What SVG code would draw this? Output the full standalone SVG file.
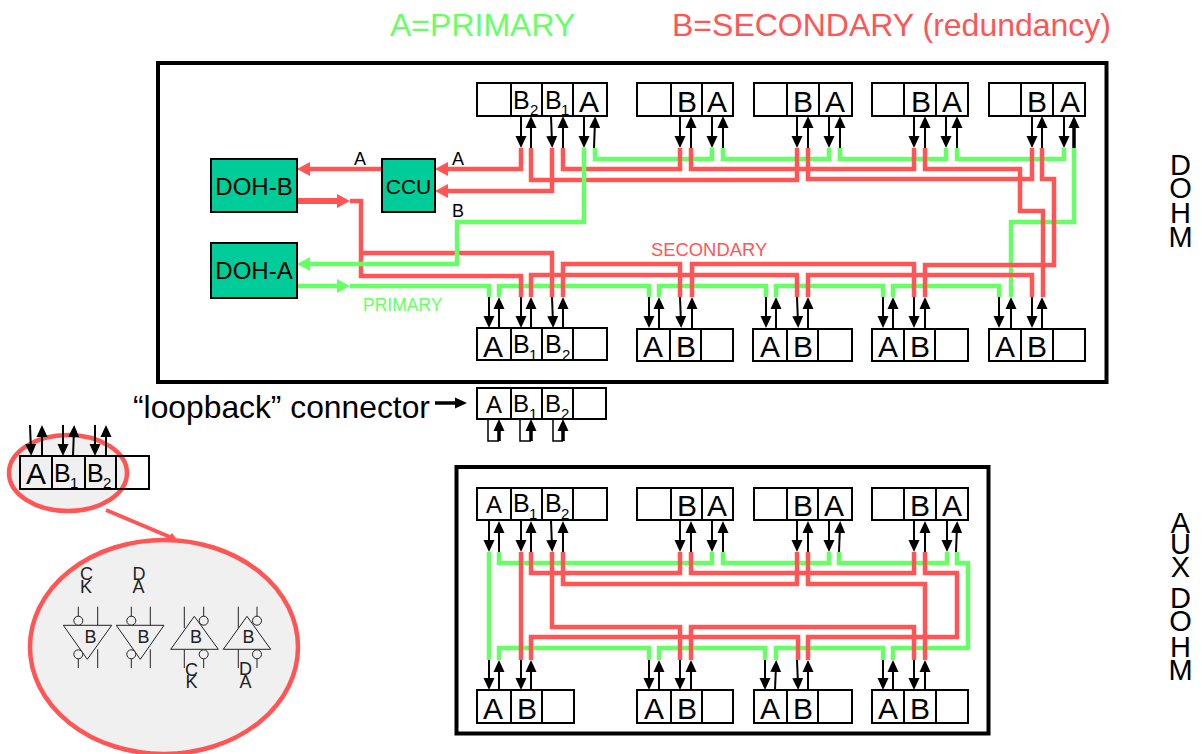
<svg xmlns="http://www.w3.org/2000/svg" width="1202" height="754" viewBox="0 0 1202 754">
<style>
text{font-family:"Liberation Sans",Arial,sans-serif;fill:#000}
.frame{fill:none;stroke:#000;stroke-width:4}
.box{fill:none;stroke:#000;stroke-width:2}
.doh{fill:#00cc99;stroke:#000;stroke-width:2}
.r,.g,.ra,.ga{fill:none;stroke-width:4.500;stroke-linejoin:miter}
.r,.ra{stroke:#ff5555}
.g,.ga{stroke:#66ff66}
.ra{marker-end:url(#hr)}
.ga{marker-end:url(#hg)}
.a{fill:none;stroke:#000;stroke-width:2;marker-end:url(#hk)}
.b{fill:none;stroke:#000;stroke-width:3.500;marker-end:url(#hk)}
.n{fill:none;stroke:#000;stroke-width:1.500}
.l{font-size:30px;text-anchor:middle}
.s{font-size:25px}
.u{font-size:15px}
.m{font-size:24px;text-anchor:middle}
.t{font-size:18px;text-anchor:middle;fill:#222}
.v{font-size:29px;text-anchor:middle}
.w{fill:none;stroke:#222;stroke-width:1}
.c{fill:#f0f0f0;stroke:#222;stroke-width:1}
.e{fill:#f0f0f0;stroke:#ff5555;stroke-width:4.500}
</style>
<defs>
<marker id="hk" markerUnits="userSpaceOnUse" markerWidth="12" markerHeight="12" viewBox="0 0 12 12" refX="7" refY="6" orient="auto"><path d="M0 .5L12 6L0 11.500z" fill="#000"/></marker>
<marker id="hr" markerUnits="userSpaceOnUse" markerWidth="13" markerHeight="14" viewBox="0 0 13 14" refX="8" refY="7" orient="auto"><path d="M0 0L13 7L0 14z" fill="#ff5555"/></marker>
<marker id="hg" markerUnits="userSpaceOnUse" markerWidth="13" markerHeight="14" viewBox="0 0 13 14" refX="8" refY="7" orient="auto"><path d="M0 0L13 7L0 14z" fill="#66ff66"/></marker>
</defs>

<text id="title-a" x="390" y="36" style="font-size:32px;fill:#66ff66">A=PRIMARY</text>
<text id="title-b" x="672" y="36" style="font-size:32px;fill:#ff5555">B=SECONDARY (redundancy)</text>

<rect id="dohm-frame" class="frame" x="158" y="63" width="948.500" height="319"/>
<rect id="aux-frame" class="frame" x="456.500" y="467" width="532" height="266.500"/>

<g id="inset-bubble"><ellipse class="e" cx="68" cy="473" rx="59" ry="38"/></g>

<g id="connectors">
<g id="dohm-wires">
<path class="g" d="M595 148V159H712V148"/>
<path class="g" d="M723 148V159H829V148"/>
<path class="g" d="M840 148V159H946V148"/>
<path class="g" d="M957 148V159H1064V148"/>
<path class="g" d="M1074 148V222H1011V297"/>
<path class="ga" d="M297 286H345"/>
<path class="g" d="M350 286H489V297"/>
<path class="g" d="M499 297V286H649V297"/>
<path class="g" d="M659 297V286H766V297"/>
<path class="g" d="M776 297V286H883V297"/>
<path class="g" d="M893 297V286H999V297"/>
<path class="ra" d="M521 148V169H440"/>
<path class="ra" d="M552 148V191H440"/>
<path class="ra" d="M382 169H302"/>
<path class="r" d="M297 201H340" style="stroke-width:6"/>
<path class="ra" d="M330 201H345"/>
<path class="r" d="M350 201H361V276H521V297"/>
<path class="r" d="M361 253H552V297"/>
<path class="r" d="M531 148V180H797V148"/>
<path class="r" d="M563 148V169H680V148"/>
<path class="r" d="M691 148V169H914V148"/>
<path class="r" d="M808 148V179H1032V148"/>
<path class="r" d="M925 148V169H1020V211H1043V297"/>
<path class="r" d="M1042 148V179H1054V265H925V297"/>
<path class="r" d="M531 297V275H797V297"/>
<path class="r" d="M563 297V264H680V297"/>
<path class="r" d="M692 297V264H914V297"/>
<path class="r" d="M808 297V275H1032V297"/>
<path class="ga" d="M584 148V222H457V264H302"/>
</g>
<g id="aux-wires">
<path class="g" d="M489 552V660"/>
<path class="g" d="M499 552V563H712V552"/>
<path class="g" d="M723 552V563H829V552"/>
<path class="g" d="M839 552V563H947V552"/>
<path class="g" d="M957 552V563H968V648H893V660"/>
<path class="g" d="M499 660V648H649V660"/>
<path class="g" d="M659 660V648H765V660"/>
<path class="g" d="M776 660V648H883V660"/>
<path class="r" d="M521 552V660"/>
<path class="r" d="M531 552V573H680V552"/>
<path class="r" d="M552 552V627H680V660"/>
<path class="r" d="M563 552V584H797V552"/>
<path class="r" d="M531 660V637H798V660"/>
<path class="r" d="M691 552V573H914V552"/>
<path class="r" d="M808 552V584H925V660"/>
<path class="r" d="M925 552V573H957V637H808V660"/>
<path class="r" d="M691 660V627H914V660"/>
</g>
<g id="dohm-arrows">
<path class="a" d="M521 116V143"/><path class="a" d="M531 148V121"/><path class="a" d="M551 116L552 143"/><path class="a" d="M563 148V121"/><path class="a" d="M584 116V143"/><path class="a" d="M594 148L595 121"/>
<path class="a" d="M680 116V143"/><path class="a" d="M691 148V121"/><path class="a" d="M712 116V143"/><path class="a" d="M723 148V121"/>
<path class="a" d="M797 116V143"/><path class="a" d="M808 148V121"/><path class="a" d="M829 116V143"/><path class="a" d="M840 148V121"/>
<path class="a" d="M914 116V143"/><path class="a" d="M925 148V121"/><path class="a" d="M946 116V143"/><path class="a" d="M957 148V121"/>
<path class="a" d="M1032 116V143"/><path class="a" d="M1042 148V121"/><path class="a" d="M1064 116V143"/><path class="b" d="M1074 148V121"/>
<path class="a" d="M489 297V323"/><path class="a" d="M499 328V302"/><path class="a" d="M521 297V323"/><path class="a" d="M531 328V302"/><path class="a" d="M552 297L553 323"/><path class="a" d="M563 328V302"/>
<path class="a" d="M649 297V323"/><path class="a" d="M659 328V302"/><path class="a" d="M680 297L681 323"/><path class="a" d="M692 328V302"/>
<path class="a" d="M766 297V323"/><path class="a" d="M776 328V302"/><path class="a" d="M797 297L798 323"/><path class="a" d="M808 328V302"/>
<path class="a" d="M883 297V323"/><path class="a" d="M893 328V302"/><path class="a" d="M914 297V323"/><path class="a" d="M925 328V302"/>
<path class="a" d="M999 297V323"/><path class="a" d="M1011 328V302"/><path class="a" d="M1032 297V323"/><path class="a" d="M1042 328V302"/>
</g>
<g id="loopback-arrows">
<path class="b" d="M435 403H462"/>
<path class="n" d="M488 419V441H499"/><path class="b" d="M499 441V424"/>
<path class="n" d="M520 419V441H531"/><path class="b" d="M531 441V424"/>
<path class="n" d="M553 419V441H563"/><path class="b" d="M563 441V424"/>
</g>
<g id="aux-arrows">
<path class="a" d="M489 520V547"/><path class="a" d="M499 552V526"/><path class="a" d="M521 520V547"/><path class="a" d="M531 552V526"/><path class="a" d="M551 520L552 547"/><path class="a" d="M563 552V526"/>
<path class="a" d="M680 520V547"/><path class="a" d="M691 552V526"/><path class="a" d="M712 520V547"/><path class="a" d="M723 552V526"/>
<path class="a" d="M797 520V547"/><path class="a" d="M808 552V526"/><path class="a" d="M829 520V547"/><path class="a" d="M839 552L840 526"/>
<path class="a" d="M914 520V547"/><path class="a" d="M925 552V526"/><path class="a" d="M947 520V547"/><path class="a" d="M956 552L957 526"/>
<path class="a" d="M489 660V685"/><path class="a" d="M499 690V665"/><path class="a" d="M521 660V685"/><path class="a" d="M531 690V665"/>
<path class="a" d="M649 660V685"/><path class="a" d="M659 690V665"/><path class="a" d="M680 660V685"/><path class="a" d="M691 690V665"/>
<path class="a" d="M765 660V685"/><path class="a" d="M775 690L776 665"/><path class="a" d="M797 660L798 685"/><path class="a" d="M808 690V665"/>
<path class="a" d="M883 660V685"/><path class="a" d="M893 690V665"/><path class="a" d="M914 660V685"/><path class="a" d="M925 690V665"/>
</g>
<g id="inset-arrows">
<path class="a" d="M30 425L31 451"/><path class="a" d="M42 456V430"/><path class="a" d="M63 425V451"/><path class="a" d="M73 456L74 430"/><path class="a" d="M95 425V451"/><path class="a" d="M106 456V430"/>
</g>
</g>

<g id="doh-b"><rect class="doh" x="211" y="159" width="86" height="53"/><text class="m" x="254" y="195">DOH-B</text></g>
<g id="doh-a"><rect class="doh" x="211" y="243" width="86" height="55"/><text class="m" x="254" y="279">DOH-A</text></g>
<g id="ccu"><rect class="doh" x="382" y="159" width="53" height="53"/><text x="408.500" y="194" style="font-size:21px;text-anchor:middle">CCU</text></g>

<g id="labels">
<text x="360" y="165" style="font-size:18px;text-anchor:middle">A</text>
<text x="458" y="165" style="font-size:18px;text-anchor:middle">A</text>
<text x="458" y="217" style="font-size:18px;text-anchor:middle">B</text>
<text x="363" y="311" style="font-size:17.500px;fill:#66ff66">PRIMARY</text>
<text x="651" y="256" style="font-size:18.400px;fill:#ff5555">SECONDARY</text>
<text x="133" y="418" style="font-size:31.800px">“loopback” connector</text>
</g>

<g id="top-1"><rect class="box" x="477" y="83" width="130" height="33"/><path class="box" d="M511 83V116M542 83V116M573 83V116"/><text class="s" x="513" y="109">B</text><text class="u" x="530" y="115">2</text><text class="s" x="545" y="109">B</text><text class="u" x="561" y="115">1</text><text class="l" x="589" y="112">A</text></g>
<g id="top-2"><rect class="box" x="637" y="83" width="96" height="33"/><path class="box" d="M671 83V116M702 83V116"/><text class="l" x="687" y="112">B</text><text class="l" x="717" y="112">A</text></g>
<g id="top-3"><rect class="box" x="754" y="83" width="98" height="33"/><path class="box" d="M787 83V116M819 83V116"/><text class="l" x="803" y="112">B</text><text class="l" x="835" y="112">A</text></g>
<g id="top-4"><rect class="box" x="872" y="83" width="96" height="33"/><path class="box" d="M904 83V116M936 83V116"/><text class="l" x="921" y="112">B</text><text class="l" x="952" y="112">A</text></g>
<g id="top-5"><rect class="box" x="989" y="83" width="96" height="33"/><path class="box" d="M1021 83V116M1053 83V116"/><text class="l" x="1037" y="112">B</text><text class="l" x="1070" y="112">A</text></g>

<g id="bot-1"><rect class="box" x="477" y="328" width="130" height="32"/><path class="box" d="M511 328V360M542 328V360M573 328V360"/><text class="l" x="493" y="357">A</text><text class="s" x="513" y="353">B</text><text class="u" x="529" y="360">1</text><text class="s" x="545" y="353">B</text><text class="u" x="562" y="360">2</text></g>
<g id="bot-2"><rect class="box" x="637" y="329" width="96" height="32"/><path class="box" d="M670 329V361M701 329V361"/><text class="l" x="653" y="357">A</text><text class="l" x="686" y="357">B</text></g>
<g id="bot-3"><rect class="box" x="753" y="329" width="99" height="32"/><path class="box" d="M787 329V361M818 329V361"/><text class="l" x="770" y="357">A</text><text class="l" x="803" y="357">B</text></g>
<g id="bot-4"><rect class="box" x="872" y="329" width="96" height="32"/><path class="box" d="M904 329V361M935 329V361"/><text class="l" x="888" y="357">A</text><text class="l" x="920" y="357">B</text></g>
<g id="bot-5"><rect class="box" x="989" y="329" width="96" height="32"/><path class="box" d="M1021 329V361M1053 329V361"/><text class="l" x="1005" y="357">A</text><text class="l" x="1037" y="357">B</text></g>

<g id="loopback"><rect class="box" x="477" y="388" width="129" height="31"/><path class="box" d="M511 388V419M542 388V419M573 388V419"/><text x="494" y="413" style="font-size:24px;text-anchor:middle">A</text><text class="s" x="513" y="412" style="font-size:24px">B</text><text class="u" x="529" y="419">1</text><text class="s" x="545" y="412" style="font-size:24px">B</text><text class="u" x="561" y="419">2</text></g>

<g id="inset">
<rect class="box" x="20" y="456" width="129" height="33"/><path class="box" d="M52 456V489M85 456V489M116 456V489"/>
<text class="l" x="36" y="484">A</text><text class="s" x="54" y="482">B</text><text class="u" x="70" y="488">1</text><text class="s" x="87" y="482">B</text><text class="u" x="103" y="488">2</text>
</g>

<g id="zoom-pointer"><path d="M106 510L170 537" fill="none" stroke="#ff5555" stroke-width="4"/><path d="M172 533L178 541L165 541z" fill="#ff5555"/></g>

<g id="gates">
<ellipse class="e" cx="164" cy="647" rx="134" ry="107"/>
<text class="t" x="86.500" y="580">C</text><text class="t" x="86" y="593">K</text>
<text class="t" x="139" y="580">D</text><text class="t" x="138.500" y="593">A</text>
<g id="gate-1"><path class="w" d="M78.300 606.700V617M97.700 606.700V625.300M78.300 658.700V668M97.700 649.300V668"/><path class="c" d="M63.300 625.300H111.700L87.300 659.300z"/><circle class="c" cx="78.300" cy="620.700" r="4.500"/><circle class="c" cx="78.300" cy="654.300" r="4.500"/><text class="t" x="90.500" y="643">B</text></g>
<g id="gate-2"><path class="w" d="M131.300 606.700V617M150.300 606.700V625.300M131.300 658.700V668M150.300 649.300V668"/><path class="c" d="M116.300 625.300H164L140.300 659.300z"/><circle class="c" cx="131.300" cy="620.700" r="4.500"/><circle class="c" cx="131.300" cy="654.300" r="4.500"/><text class="t" x="143.500" y="643">B</text></g>
<g id="gate-3"><path class="w" d="M184.300 606.700V628M203.700 606.700V616M184.300 649.300V668M203.700 658.700V668"/><circle class="c" cx="203.700" cy="620.700" r="4.500"/><path class="c" d="M170.700 649.300H218.300L194.300 616.300z"/><circle class="c" cx="203.700" cy="654.300" r="4.500"/><text class="t" x="196" y="643">B</text></g>
<g id="gate-4"><path class="w" d="M238.300 606.700V628M257 606.700V616M238.300 649.300V668M257 658.700V668"/><circle class="c" cx="257" cy="620.700" r="4.500"/><path class="c" d="M223.300 649.300H270.700L247 616.300z"/><circle class="c" cx="257" cy="654.300" r="4.500"/><text class="t" x="248.500" y="643">B</text></g>
<text class="t" x="191.500" y="676">C</text><text class="t" x="191.500" y="688">K</text>
<text class="t" x="245.500" y="675">D</text><text class="t" x="245.500" y="688">A</text>
</g>

<g id="aux-top-1"><rect class="box" x="477" y="488" width="130" height="32"/><path class="box" d="M511 488V520M542 488V520M573 488V520"/><text x="494" y="513" style="font-size:24px;text-anchor:middle">A</text><text class="s" x="513" y="512">B</text><text class="u" x="529" y="519">1</text><text class="s" x="545" y="512">B</text><text class="u" x="561" y="519">2</text></g>
<g id="aux-top-2"><rect class="box" x="637" y="488" width="96" height="32"/><path class="box" d="M671 488V520M702 488V520"/><text class="l" x="687" y="516">B</text><text class="l" x="717" y="516">A</text></g>
<g id="aux-top-3"><rect class="box" x="754" y="488" width="98" height="32"/><path class="box" d="M787 488V520M818 488V520"/><text class="l" x="803" y="516">B</text><text class="l" x="834" y="516">A</text></g>
<g id="aux-top-4"><rect class="box" x="872" y="488" width="96" height="32"/><path class="box" d="M904 488V520M936 488V520"/><text class="l" x="920" y="516">B</text><text class="l" x="952" y="516">A</text></g>

<g id="aux-bot-1"><rect class="box" x="477" y="690" width="97" height="33"/><path class="box" d="M511 690V723M542 690V723"/><text class="l" x="493" y="719">A</text><text class="l" x="527" y="719">B</text></g>
<g id="aux-bot-2"><rect class="box" x="637" y="690" width="96" height="33"/><path class="box" d="M671 690V723M702 690V723"/><text class="l" x="654" y="719">A</text><text class="l" x="687" y="719">B</text></g>
<g id="aux-bot-3"><rect class="box" x="754" y="690" width="98" height="33"/><path class="box" d="M787 690V723M818 690V723"/><text class="l" x="770" y="719">A</text><text class="l" x="803" y="719">B</text></g>
<g id="aux-bot-4"><rect class="box" x="872" y="690" width="96" height="33"/><path class="box" d="M904 690V723M936 690V723"/><text class="l" x="888" y="719">A</text><text class="l" x="920" y="719">B</text></g>

<g id="dohm-label"><text class="v" x="1180.500" y="175">D</text><text class="v" x="1180.500" y="198">O</text><text class="v" x="1180.500" y="223">H</text><text class="v" x="1180.500" y="247">M</text></g>
<g id="aux-label"><text class="v" x="1180.500" y="533">A</text><text class="v" x="1180.500" y="554">U</text><text class="v" x="1180.500" y="577">X</text><text class="v" x="1180.500" y="608">D</text><text class="v" x="1180.500" y="631">O</text><text class="v" x="1180.500" y="657">H</text><text class="v" x="1180.500" y="680">M</text></g>
</svg>
